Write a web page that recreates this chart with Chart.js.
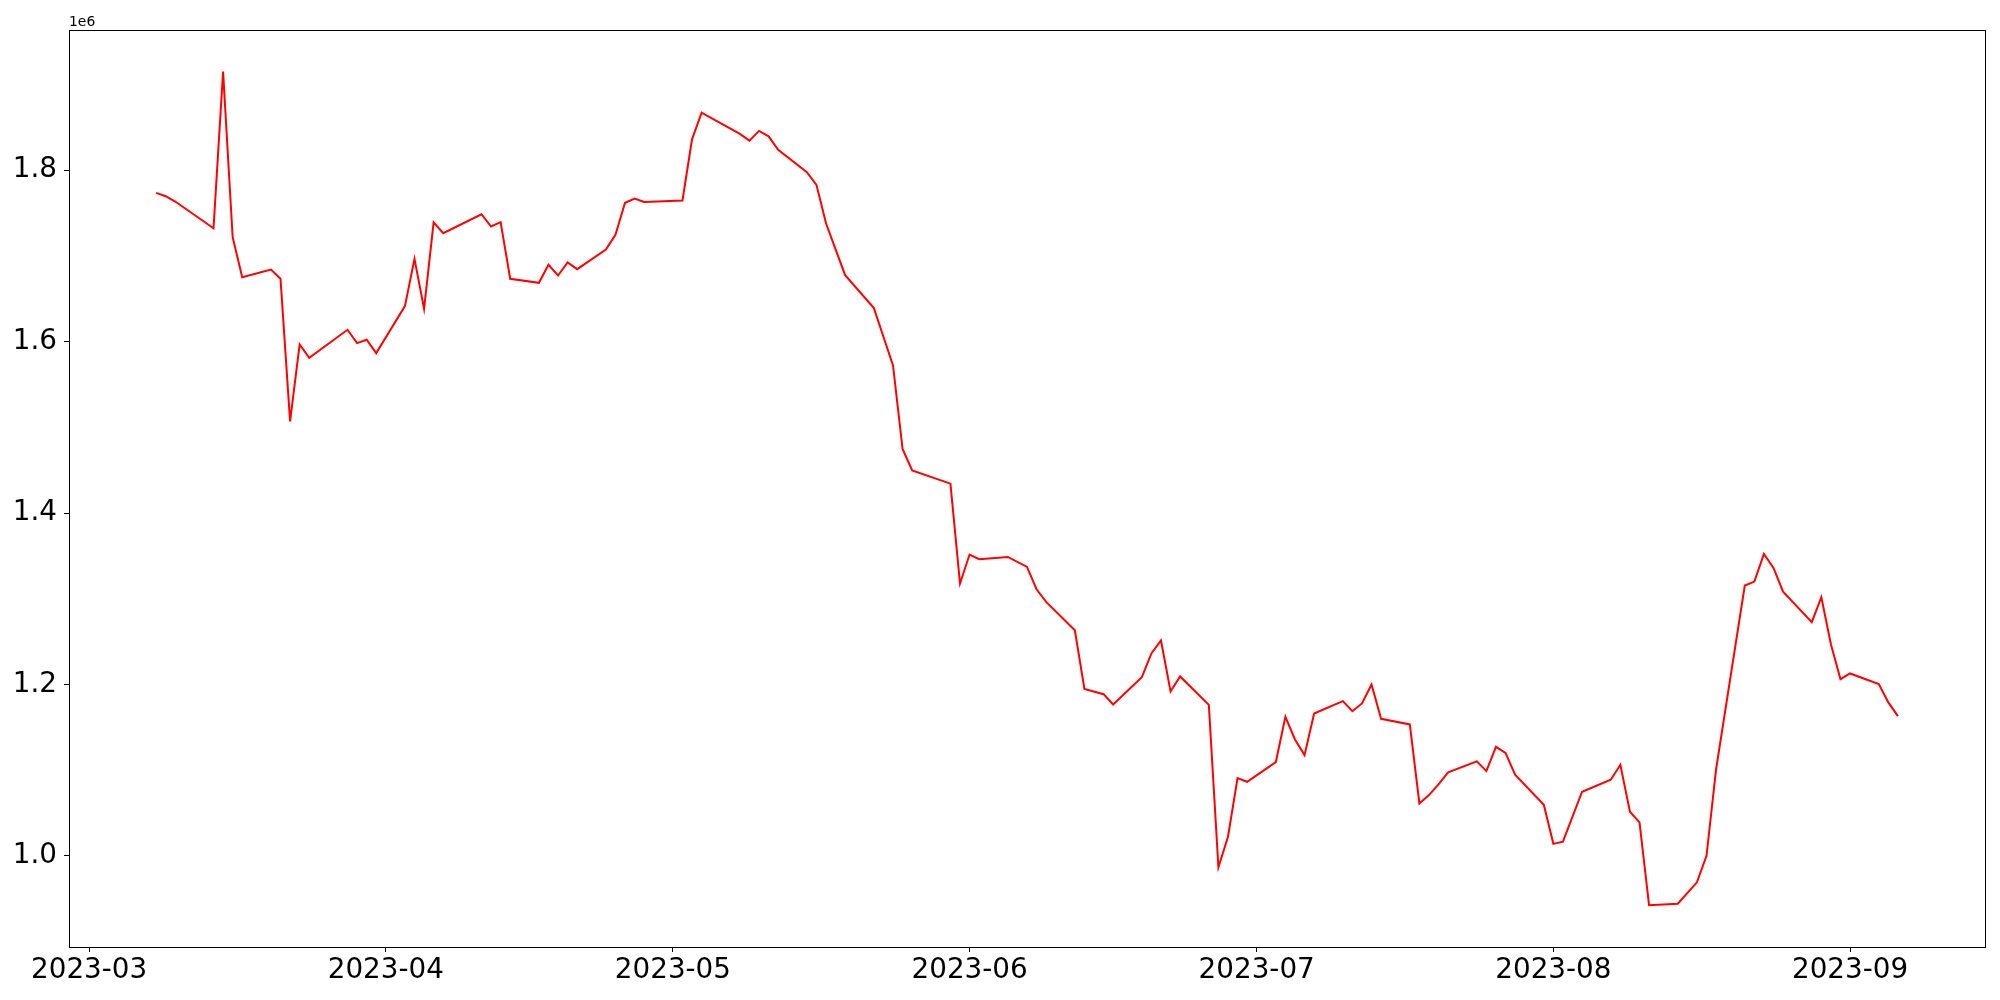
<!DOCTYPE html>
<html>
<head>
<meta charset="utf-8">
<script src="https://cdn.jsdelivr.net/npm/chart.js@4.4.1/dist/chart.umd.min.js"></script>
<style>
  body { margin: 0; background: #fff; }
  canvas { display: block; }
</style>
</head>
<body>
<canvas id="chart" width="2000" height="1000"></canvas>
<script>
// Data
const dates = [
  '2023-03-08', '2023-03-09', '2023-03-10', '2023-03-14', '2023-03-15', '2023-03-16', '2023-03-17',
  '2023-03-20', '2023-03-21', '2023-03-22', '2023-03-23', '2023-03-24', '2023-03-28', '2023-03-29',
  '2023-03-30', '2023-03-31', '2023-04-03', '2023-04-04', '2023-04-05', '2023-04-06', '2023-04-07',
  '2023-04-11', '2023-04-12', '2023-04-13', '2023-04-14', '2023-04-17', '2023-04-18', '2023-04-19',
  '2023-04-20', '2023-04-21', '2023-04-24', '2023-04-25', '2023-04-26', '2023-04-27', '2023-04-28',
  '2023-05-02', '2023-05-03', '2023-05-04', '2023-05-08', '2023-05-09', '2023-05-10', '2023-05-11',
  '2023-05-12', '2023-05-15', '2023-05-16', '2023-05-17', '2023-05-18', '2023-05-19', '2023-05-22',
  '2023-05-23', '2023-05-24', '2023-05-25', '2023-05-26', '2023-05-30', '2023-05-31', '2023-06-01',
  '2023-06-02', '2023-06-05', '2023-06-07', '2023-06-08', '2023-06-09', '2023-06-12', '2023-06-13',
  '2023-06-15', '2023-06-16', '2023-06-19', '2023-06-20', '2023-06-21', '2023-06-22', '2023-06-23',
  '2023-06-26', '2023-06-27', '2023-06-28', '2023-06-29', '2023-06-30', '2023-07-03', '2023-07-04',
  '2023-07-05', '2023-07-06', '2023-07-07', '2023-07-10', '2023-07-11', '2023-07-12', '2023-07-13',
  '2023-07-14', '2023-07-17', '2023-07-18', '2023-07-19', '2023-07-20', '2023-07-21', '2023-07-24',
  '2023-07-25', '2023-07-26', '2023-07-27', '2023-07-28', '2023-07-31', '2023-08-01', '2023-08-02',
  '2023-08-04', '2023-08-07', '2023-08-08', '2023-08-09', '2023-08-10', '2023-08-11', '2023-08-14',
  '2023-08-16', '2023-08-17', '2023-08-18', '2023-08-21', '2023-08-22', '2023-08-23', '2023-08-24',
  '2023-08-25', '2023-08-28', '2023-08-29', '2023-08-30', '2023-08-31', '2023-09-01', '2023-09-04',
  '2023-09-05', '2023-09-06'
];

const values = [
  1773500, 1769600, 1763400, 1732300, 1914900, 1721800, 1675200,
  1684100, 1673300, 1507000, 1596700, 1581200, 1613800, 1598200,
  1602200, 1586600, 1641400, 1696600, 1638300, 1739100, 1726500,
  1748600, 1734300, 1739300, 1673300, 1668600, 1689600, 1677100,
  1692300, 1684500, 1707400, 1724600, 1761900, 1766900, 1763000,
  1764600, 1836000, 1867000, 1842300, 1834500, 1845800, 1839500,
  1823700, 1797600, 1782900, 1738100, 1707500, 1677500, 1639100,
  1605700, 1572200, 1474700, 1449800, 1434300, 1317800, 1351600,
  1346100, 1348800, 1337100, 1311100, 1296300, 1263300, 1194900,
  1188700, 1176700, 1208600, 1236200, 1251300, 1191900, 1209400,
  1176300, 986700, 1022400, 1090800, 1086500, 1109500, 1162300,
  1135900, 1117600, 1166200, 1180600, 1168900, 1177900, 1200000,
  1160000, 1153400, 1061300, 1071000, 1083500, 1097500, 1110300,
  1099000, 1127300, 1120300, 1094700, 1059700, 1014100, 1016600,
  1074900, 1088900, 1106300, 1051600, 1039200, 942400, 944300,
  969200, 1000100, 1101000, 1315500, 1320100, 1352300, 1336000,
  1308400, 1272700, 1301800, 1247000, 1206200, 1212900, 1200400,
  1179100, 1163100
];

const xTickLabels = ['2023-03', '2023-04', '2023-05', '2023-06', '2023-07', '2023-08', '2023-09'];
const yTicks = [1.0, 1.2, 1.4, 1.6, 1.8];

function toTime(s) {
  const p = s.split('-').map(Number);
  return Date.UTC(p[0], p[1] - 1, p[2] || 1);
}

const points = dates.map((d, i) => ({ x: toTime(d), y: values[i] }));

// matplotlib-like 5% margins
const xMin = Math.min(...points.map(p => p.x));
const xMax = Math.max(...points.map(p => p.x));
const yMin = Math.min(...values);
const yMax = Math.max(...values);
const xPad = (xMax - xMin) * 0.05;
const yPad = (yMax - yMin) * 0.05;

const tickFont = { family: 'DejaVu Sans', size: 27.8 };

// axes frame + offset text
const framePlugin = {
  id: 'frame',
  afterDraw(chart) {
    const { ctx, chartArea } = chart;
    const l = Math.round(chartArea.left) + 0.5;
    const t = Math.round(chartArea.top) + 0.5;
    const r = Math.round(chartArea.right) + 0.5;
    const b = Math.round(chartArea.bottom) + 0.5;
    ctx.save();
    ctx.strokeStyle = '#000';
    ctx.lineWidth = 1;
    ctx.strokeRect(l, t, r - l, b - t);
    ctx.fillStyle = '#000';
    ctx.font = '13.9px "DejaVu Sans"';
    ctx.textAlign = 'left';
    ctx.textBaseline = 'alphabetic';
    ctx.fillText('1e6', chartArea.left, chartArea.top - 4);
    ctx.restore();
  }
};

const ctx = document.getElementById('chart').getContext('2d');
const chart = new Chart(ctx, {
  type: 'line',
  data: {
    datasets: [{
      data: points,
      borderColor: '#ff0000',
      borderWidth: 2,
      pointRadius: 0,
      tension: 0,
      fill: false
    }]
  },
  options: {
    responsive: false,
    animation: false,
    devicePixelRatio: 1,
    layout: { padding: { top: 30, right: 15, left: 0, bottom: 0 } },
    plugins: {
      legend: { display: false },
      tooltip: { enabled: false }
    },
    scales: {
      x: {
        type: 'linear',
        min: xMin - xPad,
        max: xMax + xPad,
        afterBuildTicks: scale => {
          scale.ticks = xTickLabels.map(t => ({ value: toTime(t) }));
        },
        afterFit: scale => { scale.height = 53; },
        grid: {
          drawOnChartArea: false,
          drawTicks: true,
          tickLength: 5,
          tickWidth: 1,
          tickColor: '#000'
        },
        border: { display: true, color: '#000', width: 1 },
        ticks: {
          color: '#000',
          font: tickFont,
          padding: 2,
          maxRotation: 0,
          autoSkip: false,
          callback: value => {
            const d = new Date(value);
            return d.getUTCFullYear() + '-' + String(d.getUTCMonth() + 1).padStart(2, '0');
          }
        }
      },
      y: {
        type: 'linear',
        min: yMin - yPad,
        max: yMax + yPad,
        afterBuildTicks: scale => {
          scale.ticks = yTicks.map(v => ({ value: v * 1e6 }));
        },
        afterFit: scale => { scale.width = 69; },
        grid: {
          drawOnChartArea: false,
          drawTicks: true,
          tickLength: 5,
          tickWidth: 1,
          tickColor: '#000'
        },
        border: { display: true, color: '#000', width: 1 },
        ticks: {
          color: '#000',
          font: tickFont,
          padding: 7,
          callback: value => (value / 1e6).toFixed(1)
        }
      }
    }
  },
  plugins: [framePlugin]
});
</script>
</body>
</html>
